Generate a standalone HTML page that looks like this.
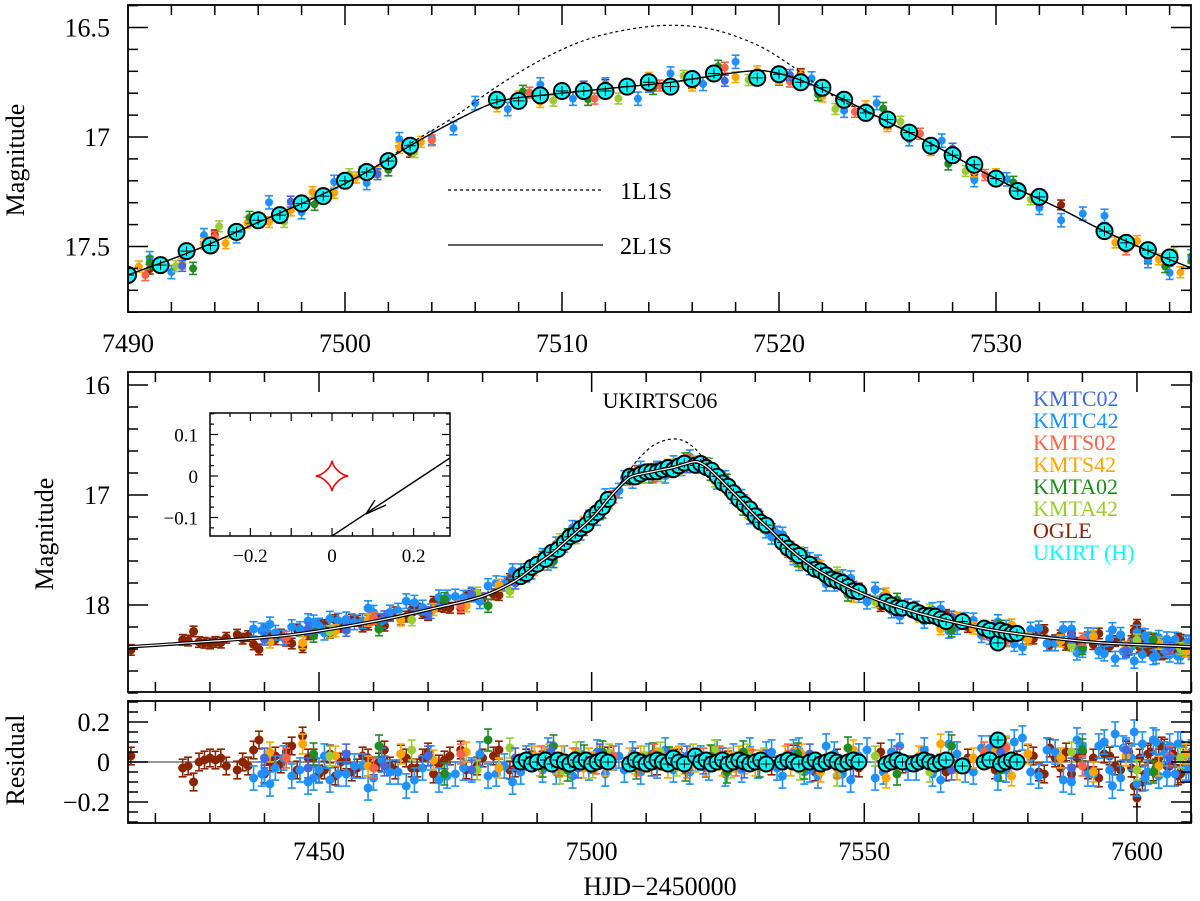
<!DOCTYPE html>
<html><head><meta charset="utf-8"><style>
html,body{margin:0;padding:0;background:#fff;}
svg{display:block;font-family:"Liberation Serif","DejaVu Serif",serif;}
</style></head><body>
<svg id="chart" width="1200" height="901" viewBox="0 0 1200 901" xmlns="http://www.w3.org/2000/svg">
<defs>
<clipPath id="cTop"><rect x="128" y="5" width="1063" height="307"/></clipPath>
<clipPath id="cMid"><rect x="128" y="372" width="1063" height="320"/></clipPath>
<clipPath id="cRes"><rect x="128" y="701" width="1063" height="122"/></clipPath>
<clipPath id="cIn"><rect x="210" y="413" width="240" height="123"/></clipPath>
</defs>
<g id="gTopData" clip-path="url(#cTop)"></g>
<g id="gMidData" clip-path="url(#cMid)"></g>
<g id="gResData" clip-path="url(#cRes)"></g>
<g id="gAxes"></g>
<g id="gInset"></g>
<g>
<line x1="448" y1="190" x2="603" y2="190" stroke="#000" stroke-width="1.2" stroke-dasharray="3,3"/>
<text x="620" y="199" font-size="24">1L1S</text>
<line x1="448" y1="245" x2="603" y2="245" stroke="#000" stroke-width="1.3"/>
<text x="620" y="254" font-size="24">2L1S</text>
</g>
<text x="660" y="408" font-size="22" text-anchor="middle">UKIRTSC06</text>
<g font-size="22">
<text x="1033" y="406" fill="#4169e1">KMTC02</text>
<text x="1033" y="428" fill="#1e90ff">KMTC42</text>
<text x="1033" y="450" fill="#ff6347">KMTS02</text>
<text x="1033" y="472" fill="#ffa500">KMTS42</text>
<text x="1033" y="494" fill="#228b22">KMTA02</text>
<text x="1033" y="516" fill="#9acd32">KMTA42</text>
<text x="1033" y="538" fill="#8b2500">OGLE</text>
<text x="1033" y="560" fill="#00ffff">UKIRT (H)</text>
</g>
<text transform="translate(24,160) rotate(-90)" font-size="26" text-anchor="middle">Magnitude</text>
<text transform="translate(53,534) rotate(-90)" font-size="26" text-anchor="middle">Magnitude</text>
<text transform="translate(24,760) rotate(-90)" font-size="26" text-anchor="middle">Residual</text>
<text x="660" y="895" font-size="26" text-anchor="middle">HJD−2450000</text>
</svg>
<script>
// ---- model knots ----
const model2T = [7405,7415,7430,7445,7460,7472,7480,7486,7490,7493,7496,7499,7501,7503,7505,7507,7509,7511,7513,7515,7517,7518.5,7519.5,7521,7523,7525,7527,7530,7533,7535,7538,7542,7548,7555,7565,7575,7590,7600,7615];
const model2M = [18.39,18.38,18.33,18.27,18.15,18.02,17.92,17.78,17.63,17.52,17.39,17.26,17.16,17.04,16.93,16.84,16.81,16.79,16.77,16.75,16.72,16.70,16.70,16.74,16.83,16.93,17.03,17.19,17.33,17.43,17.56,17.70,17.86,18.00,18.14,18.24,18.33,18.36,18.39];
const model1T = [7405,7415,7430,7445,7460,7472,7480,7486,7490,7493,7496,7499,7501,7503,7505,7507,7509,7511,7513,7515,7517,7519,7520.5,7522,7523,7525,7527,7530,7533,7535,7538,7542,7548,7555,7565,7575,7590,7600,7615];
const model1M = [18.39,18.38,18.33,18.27,18.15,18.02,17.92,17.78,17.63,17.52,17.39,17.26,17.16,17.03,16.91,16.77,16.65,16.56,16.51,16.49,16.51,16.58,16.67,16.78,16.84,16.93,17.03,17.19,17.33,17.43,17.56,17.70,17.86,18.00,18.14,18.24,18.33,18.36,18.39];

// ---- datasets: times and residuals ----
const ogleT = [7415.5,7425,7426,7427,7428,7429,7430,7431,7432,7433,7435,7436,7437,7438,7439,7440,7441,7442,7443,7445,7447,7449,7451,7453,7455,7457,7459,7461,7463,7465,7467,7469,7471,7473,7476,7479,7482,7485,7488,7491,7494,7497,7500,7503,7508,7512,7516,7521,7525,7529,7533,7537,7541,7545,7549,7553,7557,7561,7565,7569,7574,7578,7581,7583,7585,7590,7591,7592,7593,7594,7596,7598,7599,7600,7601,7602,7603,7604,7605,7606,7607,7608,7609];
const ogleR = [0.03,-0.03,-0.02,-0.10,0.0,0.01,0.02,0.01,0.02,-0.02,-0.04,0.0,-0.02,0.06,0.11,-0.06,0.0,0.03,-0.01,0.08,0.13,0.02,-0.04,-0.07,0.01,-0.03,0.02,0.0,-0.02,0.04,-0.03,0.02,-0.06,0.01,0.06,-0.02,0.03,-0.04,0.02,0.01,-0.03,0.02,-0.01,0.03,0.0,-0.02,0.02,-0.03,0.01,0.03,-0.02,0.04,-0.05,0.02,-0.03,0.05,-0.01,0.03,-0.05,0.02,-0.04,0.01,0.03,-0.06,0.02,0.05,-0.04,0.02,-0.08,0.04,-0.02,0.06,-0.03,-0.18,-0.10,0.04,-0.05,0.02,0.07,-0.02,0.03,-0.06,0.04];
const ogleT2 = [7444,7446,7448,7450,7452,7454,7456,7458,7460,7462,7464,7466,7468,7470,7472,7474,7477,7480,7483,7486,7489,7580,7582,7584,7586,7587,7588,7589,7595,7597,7598.5,7599.5,7600.5,7601.5,7602.5,7603.5,7604.5,7605.5,7606.5,7607.5,7608.5,7609.5,7610];
const ogleR2 = [0.05,-0.04,0.02,-0.06,0.04,0.0,-0.05,0.03,-0.02,0.06,-0.04,0.02,-0.03,0.05,-0.01,0.03,-0.04,0.02,0.06,-0.03,0.01,0.04,-0.05,0.07,-0.03,0.05,-0.06,0.02,0.03,-0.04,0.05,-0.12,0.02,-0.06,0.05,-0.03,0.08,-0.02,0.04,-0.07,0.03,-0.01,0.05];
const kmtc02T = [7440,7448,7455,7462,7470,7478,7486,7492.5,7497.5,7501.5,7508,7511,7514,7517.5,7520.5,7524,7528,7532,7540,7548,7556,7566,7575,7588,7598,7606];
const kmtc02R = [0.02,-0.03,0.04,-0.02,0.03,-0.04,0.02,0.05,-0.03,0.04,0.02,-0.02,0.01,0.03,-0.01,0.02,-0.03,0.01,0.04,-0.02,0.03,-0.04,0.05,-0.03,0.06,0.02];
const kmtc42T = [7438,7440,7442,7445,7448,7450,7452,7455,7458,7460,7463,7466,7469,7472,7475,7478,7481,7484,7487,7489,7491,7492,7493.5,7495,7496.5,7498,7499.5,7501,7502.5,7504,7507.5,7509,7510.5,7512,7513.5,7515,7516.5,7518,7520,7521.5,7523,7524.5,7526,7527.5,7529,7530.5,7532,7535,7537,7540,7543,7546,7549,7552,7555,7558,7561,7564,7567,7570,7573,7576,7579,7582,7585,7588,7590,7592,7594,7595,7596,7597,7598,7599,7600,7601,7602,7603,7604,7605,7606,7607,7608,7609,7610];
const kmtc42R = [-0.08,-0.05,-0.03,-0.07,-0.10,-0.04,-0.09,-0.06,-0.02,-0.08,-0.05,-0.12,-0.03,-0.09,-0.06,-0.04,-0.07,-0.02,-0.05,0.03,-0.04,0.06,-0.05,0.02,-0.07,0.04,-0.03,0.05,-0.06,0.02,0.04,-0.05,0.03,-0.02,0.06,-0.04,0.03,-0.05,0.02,-0.03,0.05,-0.06,0.03,-0.04,0.06,-0.02,0.04,-0.07,0.05,-0.04,0.08,-0.06,0.03,-0.08,0.05,-0.03,0.06,-0.09,0.04,-0.05,0.07,-0.04,0.12,-0.07,0.05,-0.10,0.08,-0.06,0.10,-0.04,0.14,-0.08,0.06,0.02,-0.11,0.09,-0.05,0.11,-0.07,0.04,0.08,-0.06,0.09,-0.03,0.05];
const kmtc42T2 = [7439.5,7441,7443.5,7446.5,7449,7451,7453.5,7456.5,7459,7461.5,7464.5,7467.5,7470.5,7473.5,7476.5,7479.5,7482.5,7485.5,7488,7505,7506,7533,7534,7538,7539,7541.5,7544.5,7547.5,7550.5,7553.5,7556.5,7559.5,7562.5,7565.5,7568.5,7571.5,7574.5,7577.5,7580.5,7583.5,7586.5,7589,7591,7593,7595.5,7597.5,7599.5,7601.5,7603.5,7605.5,7607.5,7609.5];
const kmtc42R2 = [-0.06,-0.11,0.02,-0.04,-0.08,0.03,-0.06,-0.02,-0.13,0.01,-0.05,-0.09,0.02,-0.07,-0.03,0.04,-0.06,-0.10,0.02,0.03,-0.04,0.05,-0.03,0.06,-0.05,-0.07,0.04,-0.09,0.06,-0.05,0.08,-0.03,-0.06,0.09,-0.04,0.07,-0.08,0.10,-0.05,0.06,-0.09,0.11,-0.06,0.08,-0.12,0.07,0.15,-0.08,0.10,-0.06,0.09,-0.04];
const kmts02T = [7444,7460,7476,7490.8,7494,7497,7500.8,7504,7508.5,7511.5,7514.5,7517.5,7520.5,7523.5,7526.5,7529.5,7536,7545,7556,7572,7576,7590,7606];
const kmts02R = [0.02,-0.03,0.04,0.03,-0.02,0.02,-0.01,0.03,-0.02,0.04,0.01,-0.03,0.02,0.03,-0.02,0.01,0.04,-0.03,0.02,0.05,0.07,-0.02,0.03];
const kmts42T = [7441,7447,7453,7459,7465,7471,7477,7483,7489.5,7490.5,7491.5,7492.5,7493.5,7494.5,7495.5,7496.5,7497.5,7498.5,7499.5,7500.5,7501.5,7502.5,7503.5,7507,7508,7509,7510,7511,7512,7513,7514,7515,7516,7517,7518,7519,7520,7521,7522,7523,7524,7525,7526,7527,7528,7529,7530,7531,7535.5,7536.5,7537.5,7538.5,7542,7548,7554,7560,7564,7567,7570,7574,7577,7580,7586,7592,7598,7604,7609];
const kmts42R = [0.05,0.09,0.03,-0.02,0.04,0.01,0.05,-0.03,0.03,-0.02,0.02,0.04,-0.01,0.03,-0.02,0.02,0.01,-0.03,0.02,0.0,0.03,-0.02,0.01,0.02,-0.01,0.03,0.0,-0.02,0.02,0.01,-0.03,0.02,0.03,-0.01,0.02,0.0,0.02,-0.02,0.03,0.01,-0.02,0.02,0.0,0.03,-0.01,0.02,-0.02,0.01,0.03,-0.02,0.02,0.04,-0.05,0.06,-0.08,0.03,0.09,-0.04,0.02,0.05,-0.07,0.04,0.02,-0.05,0.03,-0.02,0.04];
const kmta02T = [7449,7461,7473,7481,7491,7493,7495.6,7498.6,7502,7508.2,7511.2,7514.2,7517.2,7521.8,7524.8,7527.8,7530.8,7537.8,7539,7547,7556,7566,7575,7590,7603];
const kmta02R = [0.04,0.08,-0.06,0.11,-0.02,0.08,-0.04,0.03,0.05,-0.03,0.04,0.02,-0.04,0.03,-0.05,0.05,-0.02,0.04,-0.03,0.07,-0.06,0.08,-0.04,0.06,-0.05];
const kmta42T = [7452,7467,7479,7485,7492.2,7494.2,7497.2,7500.2,7503.2,7509.6,7512.6,7515.6,7518.6,7522.6,7525.6,7528.6,7531.6,7538.2,7545,7552,7562,7576,7588,7600,7608];
const kmta42R = [0.03,0.06,-0.04,0.07,0.04,-0.06,0.05,-0.03,0.04,0.03,0.05,-0.02,0.04,0.06,-0.03,0.04,0.02,-0.04,-0.07,0.03,-0.05,0.08,0.05,-0.04,0.02];
const ukirtT = [7487,7488,7489,7490,7491.5,7492.7,7493.8,7495,7496,7497,7498,7499,7500,7501,7502,7503,7507,7508,7509,7510,7511,7512,7513,7514,7515,7516,7517,7519,7520,7521,7522,7523,7524,7525,7526,7527,7528,7529,7530,7531,7532,7535,7536,7537,7538,7540,7541,7542,7543,7544,7545,7546,7547,7548,7549,7554,7555,7556,7557,7559,7560,7561,7562,7563,7564,7565,7568,7572,7573,7574.5,7575,7576,7577,7578];
const ukirtR = [0.0,0.01,-0.01,0.0,0.01,-0.01,0.01,0.0,-0.01,0.01,0.0,0.01,-0.01,0.0,0.01,0.0,-0.01,0.01,0.0,-0.01,0.0,0.01,0.0,-0.01,0.02,0.0,-0.01,0.03,0.0,0.01,-0.01,0.0,0.01,-0.01,0.0,0.01,0.0,-0.01,0.0,0.01,-0.01,0.0,0.01,0.0,-0.01,0.0,0.01,-0.01,0.0,0.01,0.0,-0.01,0.0,0.01,0.0,-0.01,0.0,0.01,0.0,-0.01,0.0,0.01,0.0,-0.01,0.0,0.01,-0.02,0.0,0.01,0.11,-0.01,0.0,0.01,0.0];

const datasets = [
 {name:'ogle', t:ogleT.concat(ogleT2), r:ogleR.concat(ogleR2), c:'#8b2500', e:0.04},
 {name:'kmtc42', t:kmtc42T.concat(kmtc42T2), r:kmtc42R.concat(kmtc42R2), c:'#1e90ff', e:0.055},
 {name:'kmts42', t:kmts42T, r:kmts42R, c:'#ffa500', e:0.045},
 {name:'kmta42', t:kmta42T, r:kmta42R, c:'#9acd32', e:0.045},
 {name:'kmta02', t:kmta02T, r:kmta02R, c:'#228b22', e:0.05},
 {name:'kmts02', t:kmts02T, r:kmts02R, c:'#ff6347', e:0.045},
 {name:'kmtc02', t:kmtc02T, r:kmtc02R, c:'#4169e1', e:0.045},
];

const NS = 'http://www.w3.org/2000/svg';
function mk(tag, attrs, parent){ const el=document.createElementNS(NS,tag); for(const k in attrs) el.setAttribute(k,attrs[k]); if(parent) parent.appendChild(el); return el; }

// axis functions
const xTop = t => 128 + (t-7490)*21.7;
const yTop = m => 137 + (m-17)*219;
const xMid = t => 319 + (t-7450)*5.453;
const yMid = m => 495 + (m-17)*110;
const yRes = r => 762 - r*200;

function modelAt(T, M, t){
  if(t<=T[0]) return M[0];
  for(let i=0;i<T.length-1;i++){ if(t<=T[i+1]){ const f=(t-T[i])/(T[i+1]-T[i]); return M[i]+f*(M[i+1]-M[i]); } }
  return M[M.length-1];
}
function smoothPath(T, M, fx, fy){
  const P = T.map((t,i)=>[fx(t), fy(M[i])]);
  let d = 'M'+P[0][0].toFixed(1)+','+P[0][1].toFixed(1);
  for(let i=0;i<P.length-1;i++){
    const p0=P[Math.max(0,i-1)], p1=P[i], p2=P[i+1], p3=P[Math.min(P.length-1,i+2)];
    const c1=[p1[0]+(p2[0]-p0[0])/6, p1[1]+(p2[1]-p0[1])/6];
    const c2=[p2[0]-(p3[0]-p1[0])/6, p2[1]-(p3[1]-p1[1])/6];
    d+=' C'+c1[0].toFixed(1)+','+c1[1].toFixed(1)+' '+c2[0].toFixed(1)+','+c2[1].toFixed(1)+' '+p2[0].toFixed(1)+','+p2[1].toFixed(1);
  }
  return d;
}

function drawPoint(g, x, y, eh, color, rad, cap){
  const grp = mk('g', {}, g);
  
  
  mk('line', {x1:x, y1:y-eh, x2:x, y2:y+eh, stroke:color, 'stroke-width':1.6}, grp);
  mk('line', {x1:x-cap, y1:y-eh, x2:x+cap, y2:y-eh, stroke:color, 'stroke-width':1.6}, grp);
  mk('line', {x1:x-cap, y1:y+eh, x2:x+cap, y2:y+eh, stroke:color, 'stroke-width':1.6}, grp);
  mk('circle', {cx:x, cy:y, r:rad, fill:color}, grp);
}
function drawUkirt(g, x, y, rad){
  const c = mk('circle', {cx:x, cy:y, r:rad, fill:'#00ffff', stroke:'#000', 'stroke-width':2}, g);
  
  
  mk('line', {x1:x-rad+2, y1:y, x2:x+rad-2, y2:y, stroke:'#000', 'stroke-width':1}, g);
  mk('line', {x1:x, y1:y-rad+3, x2:x, y2:y+rad-3, stroke:'#000', 'stroke-width':1}, g);
}

const gTop = document.getElementById('gTopData');
const gMid = document.getElementById('gMidData');
const gRes = document.getElementById('gResData');

mk('line', {x1:128, y1:yRes(0), x2:1191, y2:yRes(0), stroke:'#777', 'stroke-width':1.5}, gRes);

datasets.forEach(ds=>{
  const n = Math.min(ds.t.length, ds.r.length);
  for(let i=0;i<n;i++){
    const t=ds.t[i], r=ds.r[i], m=modelAt(model2T, model2M, t)+r;
    if(t>=7489 && t<=7540) drawPoint(gTop, xTop(t), yTop(m), ds.e*219*0.55, ds.c, 4, 4);
    drawPoint(gMid, xMid(t), yMid(m), ds.e*110*1.2, ds.c, 4.5, 4);
    drawPoint(gRes, xMid(t), yRes(r), ds.e*200*1.1, ds.c, 4.5, 4);
  }
});
{
  const n=Math.min(ukirtT.length, ukirtR.length);
  for(let i=0;i<n;i++){
    const t=ukirtT[i], r=ukirtR[i], m=modelAt(model2T, model2M, t)+r;
    if(t<=7540) drawUkirt(gTop, xTop(t), yTop(m), 8);
    drawUkirt(gMid, xMid(t), yMid(m), 7.5);
    drawUkirt(gRes, xMid(t), yRes(r), 7.5);
  }
}
let p;
p = mk('path', {d:smoothPath(model1T, model1M, xTop, yTop), fill:'none', stroke:'#000', 'stroke-width':1.2, 'stroke-dasharray':'3,3'}, gTop);


p = mk('path', {d:smoothPath(model2T, model2M, xTop, yTop), fill:'none', stroke:'#000', 'stroke-width':1.4}, gTop);


p = mk('path', {d:smoothPath(model1T, model1M, xMid, yMid), fill:'none', stroke:'#000', 'stroke-width':1.2, 'stroke-dasharray':'3,3'}, gMid);


p = mk('path', {d:smoothPath(model2T, model2M, xMid, yMid), fill:'none', stroke:'#000', 'stroke-width':3.5}, gMid);


mk('path', {d:smoothPath(model2T, model2M, xMid, yMid), fill:'none', stroke:'#fff', 'stroke-width':1.2}, gMid);

// axes
const gA = document.getElementById('gAxes');
function box(x0,y0,x1,y1,name){
  const r = mk('rect', {x:x0, y:y0, width:x1-x0, height:y1-y0, fill:'none', stroke:'#000', 'stroke-width':1.8}, gA);
  
  
}
function xticks(y0,y1,fx,tmin,tmax,minor,major,len){
  for(let t=Math.ceil(tmin/minor)*minor; t<=tmax+1e-9; t+=minor){
    const isM = Math.abs(t/major-Math.round(t/major))<1e-6;
    const L = isM?len*2:len, x=fx(t);
    mk('line', {x1:x, y1:y1, x2:x, y2:y1-L, stroke:'#000', 'stroke-width':1.5}, gA);
    mk('line', {x1:x, y1:y0, x2:x, y2:y0+L, stroke:'#000', 'stroke-width':1.5}, gA);
  }
}
function yticks(x0,x1,fy,vmin,vmax,minor,major,len){
  for(let v=Math.ceil(vmin/minor-1e-9)*minor; v<=vmax+1e-9; v+=minor){
    const isM = Math.abs(v/major-Math.round(v/major))<1e-6;
    const L = isM?len*2:len, y=fy(v);
    mk('line', {x1:x0, y1:y, x2:x0+L, y2:y, stroke:'#000', 'stroke-width':1.5}, gA);
    mk('line', {x1:x1, y1:y, x2:x1-L, y2:y, stroke:'#000', 'stroke-width':1.5}, gA);
  }
}
function label(x,y,txt,anchor,size,name){
  const t = mk('text', {x:x, y:y, 'text-anchor':anchor, 'font-size':size}, gA);
  t.textContent = txt;
  
  
}
box(128,5,1191,312,'top-panel-frame');
box(128,372,1191,692,'middle-panel-frame');
box(128,701,1191,823,'residual-panel-frame');
xticks(5,312,xTop,7490,7539,2,10,10);
yticks(128,1191,yTop,16.4,17.8,0.1,0.5,10);
xticks(372,692,xMid,7415,7610,10,50,10);
yticks(128,1191,yMid,15.9,18.8,0.2,1,10);
xticks(701,823,xMid,7415,7610,10,50,10);
yticks(128,1191,yRes,-0.3,0.3,0.05,0.2,10);

const topXTicks = ['7490','7500','7510','7520','7530'];
const topYTicks = ['16.5','17','17.5'];
const midXTicks = ['7450','7500','7550','7600'];
const midYTicks = ['16','17','18'];
const resYTicks = ['0.2','0','−0.2'];
const resYVals = [0.2,0,-0.2];
topXTicks.forEach(s=>label(xTop(+s), 352, s, 'middle', 26, 'top-x-tick-label'));
topYTicks.forEach(s=>label(110, yTop(+s)+9, s, 'end', 26, 'top-y-tick-label'));
midXTicks.forEach(s=>label(xMid(+s), 860, s, 'middle', 26, 'x-tick-label'));
midYTicks.forEach(s=>label(110, yMid(+s)+9, s, 'end', 26, 'middle-y-tick-label'));
resYTicks.forEach((s,i)=>label(110, yRes(resYVals[i])+9, s, 'end', 26, 'residual-y-tick-label'));

// inset
const gI = document.getElementById('gInset');
const xIn = v => 332 + v*408;
const yIn = v => 476 - v*415;
mk('rect', {x:210, y:413, width:240, height:123, fill:'#fff', stroke:'#000', 'stroke-width':1.5}, gI);
for(let v=-0.3; v<=0.3+1e-9; v+=0.05){
  const isM = Math.abs(v/0.1-Math.round(v/0.1))<1e-6, L=isM?8:4, x=xIn(v);
  if(x<210||x>450) continue;
  mk('line', {x1:x, y1:536, x2:x, y2:536-L, stroke:'#000', 'stroke-width':1.2}, gI);
  mk('line', {x1:x, y1:413, x2:x, y2:413+L, stroke:'#000', 'stroke-width':1.2}, gI);
}
for(let v=-0.15; v<=0.15+1e-9; v+=0.025){
  const isM = Math.abs(v/0.1-Math.round(v/0.1))<1e-6, L=isM?8:4, y=yIn(v);
  if(y<413||y>536) continue;
  mk('line', {x1:210, y1:y, x2:210+L, y2:y, stroke:'#000', 'stroke-width':1.2}, gI);
  mk('line', {x1:450, y1:y, x2:450-L, y2:y, stroke:'#000', 'stroke-width':1.2}, gI);
}
const inXTicks = ['−0.2','0','0.2'];
const inXVals = [-0.2,0,0.2];
const inYTicks = ['0.1','0','−0.1'];
const inYVals = [0.1,0,-0.1];
inXTicks.forEach((s,i)=>{ const t=mk('text',{x:xIn(inXVals[i]), y:562, 'text-anchor':'middle', 'font-size':19}, gI); t.textContent=s;
    });
inYTicks.forEach((s,i)=>{ const t=mk('text',{x:198, y:yIn(inYVals[i])+7, 'text-anchor':'end', 'font-size':19}, gI); t.textContent=s;
    });
let cd='';
for(let k=0;k<=120;k++){ const th=k/120*2*Math.PI; const x=xIn(0.04*Math.pow(Math.cos(th),3)); const y=yIn(0.037*Math.pow(Math.sin(th),3)); cd+=(k?'L':'M')+x.toFixed(1)+','+y.toFixed(1); }
const ca = mk('path', {d:cd+'Z', fill:'none', stroke:'#ff0000', 'stroke-width':1.6}, gI);


const tr = mk('line', {x1:332, y1:536, x2:450, y2:458, stroke:'#000', 'stroke-width':1.4, 'clip-path':'url(#cIn)'}, gI);


mk('path', {d:'M366,514 L375,500 M366,514 L386,505', fill:'none', stroke:'#000', 'stroke-width':1.4}, gI);
</script>
</body></html>
